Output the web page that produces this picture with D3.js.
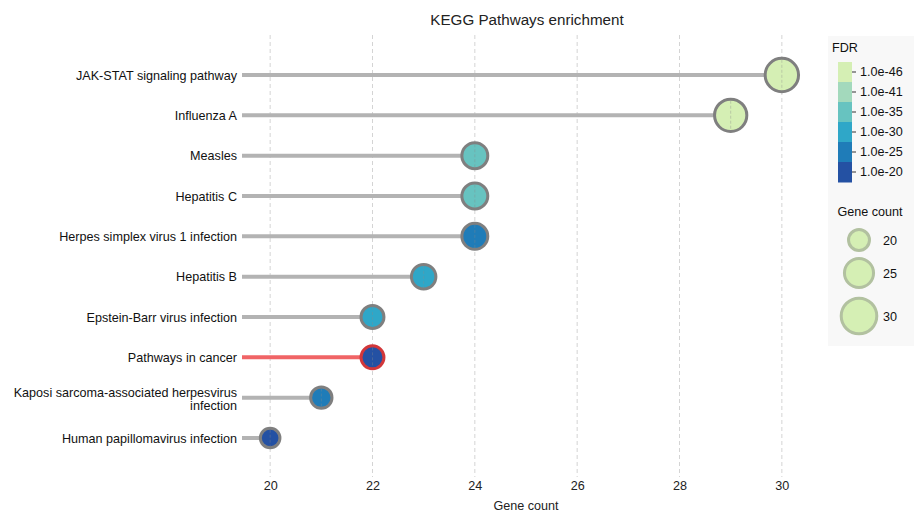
<!DOCTYPE html>
<html>
<head>
<meta charset="utf-8">
<script src="https://cdn.jsdelivr.net/npm/d3@7"></script>
<style>
  body { margin: 0; background: #fff; }
  svg { font-family: "Liberation Sans", Arial, sans-serif; }
</style>
</head>
<body>
<svg id="chart" width="916" height="512"></svg>
<script>
// Pathways, top to bottom
const pathways = [
  "JAK-STAT signaling pathway",
  "Influenza A",
  "Measles",
  "Hepatitis C",
  "Herpes simplex virus 1 infection",
  "Hepatitis B",
  "Epstein-Barr virus infection",
  "Pathways in cancer",
  "Kaposi sarcoma-associated herpesvirus infection",
  "Human papillomavirus infection"
];
const geneCounts = [30, 29, 24, 24, 24, 23, 22, 22, 21, 20];
const fdrValues = [1e-47, 1e-45, 1e-36, 1e-35, 1e-26, 1e-31, 1e-30, 1e-21, 1e-25, 1e-20];
const highlighted = ["Pathways in cancer"];

// FDR legend bins and colours
const fdrTickLabels = ["1.0e-46", "1.0e-41", "1.0e-35", "1.0e-30", "1.0e-25", "1.0e-20"];
const fdrColors = ["#d5efb4", "#a3d9bc", "#67c3c0", "#2fa7c8", "#1f7cb8", "#2451a3"];
const xTicks = [20, 22, 24, 26, 28, 30];
const sizeLegendCounts = [20, 25, 30];

const FONT = "Liberation Sans, Arial, sans-serif";
const svg = d3.select("#chart");

const x = d3.scaleLinear().domain([19.45, 30.55]).range([242, 810]);
const y = d3.scalePoint().domain(pathways).range([75, 438]);
// marker area grows linearly with gene count; outer radius includes outline
const area = d3.scaleLinear().domain([20, 30]).range([11.3 * 11.3, 18.2 * 18.2]);
const rOuter = n => Math.sqrt(area(n));

// bin FDR on -log10 scale
const fdrBin = d3.scaleThreshold()
  .domain([22.5, 27.5, 32.5, 38, 43.5])
  .range(fdrColors.slice().reverse());
const colorOf = f => fdrBin(-Math.log10(f));

const data = pathways.map((p, i) => ({ name: p, count: geneCounts[i], fdr: fdrValues[i], hi: highlighted.includes(p) }));

// title
svg.append("text").attr("x", 527).attr("y", 25).attr("text-anchor", "middle")
  .attr("font-size", 15.2).attr("fill", "#222").text("KEGG Pathways enrichment");

// vertical grid
svg.append("g").selectAll("line").data(xTicks).join("line")
  .attr("x1", d => x(d)).attr("x2", d => x(d))
  .attr("y1", 35).attr("y2", 477)
  .attr("stroke", "#d4d4d4").attr("stroke-width", 1).attr("stroke-dasharray", "4,3");

// x axis labels
const xAxis = d3.axisBottom(x).tickValues(xTicks).tickSize(0).tickPadding(0);
const gx = svg.append("g").attr("transform", "translate(0,481)").call(xAxis);
gx.select(".domain").remove();
gx.selectAll("text").attr("font-size", 12.6).attr("fill", "#222").attr("font-family", FONT);
svg.append("text").attr("x", 526).attr("y", 510).attr("text-anchor", "middle")
  .attr("font-size", 12.6).attr("fill", "#222").text("Gene count");

// y labels (wrapped when long)
const labelG = svg.append("g");
data.forEach(d => {
  const t = labelG.append("text").attr("x", 237).attr("text-anchor", "end")
    .attr("font-size", 12.6).attr("fill", "#111");
  if (d.name.length > 40) {
    const parts = ["Kaposi sarcoma-associated herpesvirus", "infection"];
    t.attr("y", y(d.name) - 1);
    parts.forEach((p, k) => t.append("tspan").attr("x", 237).attr("dy", k === 0 ? 0 : 13).text(p));
  } else {
    t.attr("y", y(d.name) + 4.5).text(d.name);
  }
});

// stems
svg.append("g").selectAll("line").data(data).join("line")
  .attr("x1", x(19.45)).attr("x2", d => x(d.count) - rOuter(d.count) + 2)
  .attr("y1", d => y(d.name)).attr("y2", d => y(d.name))
  .attr("stroke", d => d.hi ? "#f06466" : "#b3b3b3").attr("stroke-width", 4);

// heads
const heads = svg.append("g").selectAll("g").data(data).join("g")
  .attr("transform", d => `translate(${x(d.count)},${y(d.name)})`);
heads.append("circle")
  .attr("r", d => rOuter(d.count) - 1.5)
  .attr("fill", d => colorOf(d.fdr))
  .attr("stroke", d => d.hi ? "#d2373a" : "#7f7f7f").attr("stroke-width", 3);
heads.append("line")
  .attr("y1", d => -(rOuter(d.count) - 3)).attr("y2", d => rOuter(d.count) - 3)
  .attr("stroke", "#888").attr("stroke-opacity", 0.45).attr("stroke-width", 0.8)
  .attr("stroke-dasharray", "3,2");

// legend panel
const leg = svg.append("g");
leg.append("rect").attr("x", 828).attr("y", 36).attr("width", 86).attr("height", 310).attr("fill", "#f8f8f8");
leg.append("text").attr("x", 832).attr("y", 52).attr("font-size", 12.6).attr("fill", "#111").text("FDR");
const cb = d3.scaleBand().domain(fdrTickLabels).range([62, 182]).padding(0);
leg.selectAll("rect.bin").data(fdrTickLabels).join("rect").attr("class", "bin")
  .attr("x", 838).attr("y", d => cb(d)).attr("width", 14).attr("height", cb.bandwidth() + 0.5)
  .attr("fill", (d, i) => fdrColors[i]);
const cbAxis = d3.axisRight(cb).tickSize(4).tickPadding(4);
const gcb = leg.append("g").attr("transform", "translate(852,0)").call(cbAxis);
gcb.select(".domain").remove();
gcb.selectAll("line").attr("stroke", "#333");
gcb.selectAll("text").attr("font-size", 12.6).attr("fill", "#111").attr("font-family", FONT);

leg.append("text").attr("x", 870).attr("y", 216).attr("text-anchor", "middle")
  .attr("font-size", 12.6).attr("fill", "#111").text("Gene count");
const sizeY = d3.scaleOrdinal().domain(sizeLegendCounts).range([240, 273, 316]);
const sl = leg.selectAll("g.sz").data(sizeLegendCounts).join("g").attr("class", "sz");
sl.append("circle").attr("cx", 859).attr("cy", d => sizeY(d))
  .attr("r", d => rOuter(d) * 1.06 - 1.5)
  .attr("fill", "#d5efb4").attr("stroke", "#b2c1a0").attr("stroke-width", 3);
sl.append("text").attr("x", 883).attr("y", d => sizeY(d) + 4.5)
  .attr("font-size", 12.6).attr("fill", "#111").text(d => d);
</script>
</body>
</html>
